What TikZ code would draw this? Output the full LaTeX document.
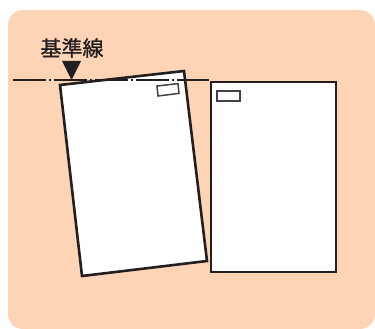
\documentclass[tikz,border=0pt]{standalone}
\usepackage{fontspec}
\newfontfamily\cjk[FakeBold=1.2]{Noto Sans CJK JP}
\definecolor{bgorange}{HTML}{FDD5B6}
\definecolor{inkdark}{HTML}{231F20}
\tikzset{
  page/.style={draw=inkdark, fill=white, line width=2.6pt, line join=miter},
  tag/.style={draw=inkdark!85, fill=white, line width=1.5pt},
  refline/.style={draw=inkdark, line width=2pt, dash pattern=on 33pt off 3pt on 2pt off 3pt},
}
\begin{document}
\begin{tikzpicture}[x=1pt,y=-1pt]
\useasboundingbox (0,0) rectangle (375,329);
\fill[bgorange, rounded corners=15pt] (8,10) rectangle (375,329);
% tilted page
\draw[page] (60,85) -- (184,71) -- (207,261) -- (82,276) -- cycle;
\draw[tag] (157,86) -- (178,83.6) -- (179,93.4) -- (158,96) -- cycle;
% straight page
\draw[page] (211,82) rectangle (336,272);
\draw[tag] (217,91) rectangle (240,101);
% reference line
\coordinate (ls) at (13,80);
\coordinate (le) at (209,80);
\draw[refline] (ls) -- (le);
% marker
\fill[inkdark] (62,61) -- (81,61) -- (71.5,80) -- cycle;
\node[font=\cjk\fontsize{21pt}{24pt}\selectfont, text=inkdark, inner sep=0pt] (label) at (72,48) {基準線};
\end{tikzpicture}
\end{document}
